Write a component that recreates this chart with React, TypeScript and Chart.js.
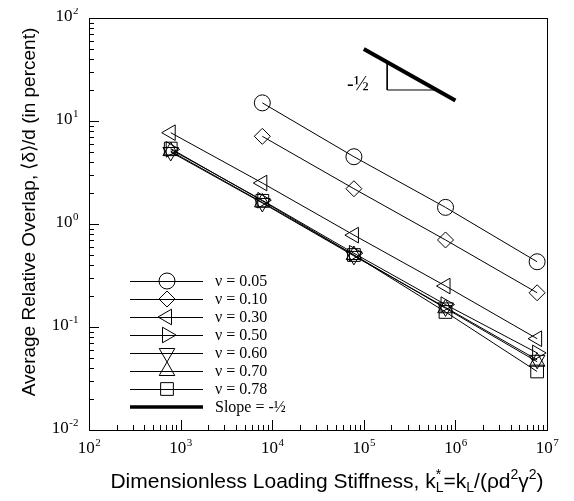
import React, { useEffect, useRef } from 'react';
import { Chart, registerables } from 'chart.js';
import { drawPoint } from 'chart.js/helpers';

Chart.register(...registerables);

// ---- data ----
const xAll = [780, 7800, 78000, 780000, 7800000];
const xHigh = [7800, 78000, 780000, 7800000];

const nu005 = [15, 4.5, 1.45, 0.43];
const nu010 = [7.1, 2.2, 0.7, 0.215];
const nu030 = [7.7, 2.5, 0.78, 0.25, 0.077];
const nu050 = [5.3, 1.7, 0.52, 0.165, 0.056];
const nu060 = [5.0, 1.6, 0.49, 0.155, 0.048];
const nu070 = [5.1, 1.62, 0.5, 0.152, 0.046];
const nu078 = [5.4, 1.68, 0.5, 0.14, 0.037];

const seriesLabels = ['ν = 0.05', 'ν = 0.10', 'ν = 0.30', 'ν = 0.50', 'ν = 0.60', 'ν = 0.70', 'ν = 0.78'];
const slopeLabel = 'Slope = -½';

// slope indicator
const slopeX = [1e5, 1e6];
const slopeY = [50, 15.8];
const triX = [1.8e5, 1.8e5, 6.25e5];
const triY = [37.3, 20, 20];
const slopeTextPos = { x: 8.6e4, y: 22.5, text: '-½' };

// axes
const xDecades = [2, 3, 4, 5, 6, 7];
const yDecades = [-2, -1, 0, 1, 2];
const xTitleParts = ['Dimensionless Loading Stiffness, k', 'L', '*', '=k', 'L', '/(ρd', '2', 'γ', '2', ')'];
const yTitle = 'Average Relative Overlap, ⟨δ⟩/d (in percent)';

const styles = [
  { pointStyle: 'circle', rotation: 0, radius: 8 },
  { pointStyle: 'rectRot', rotation: 0, radius: 8 },
  { pointStyle: 'triangle', rotation: 270, radius: 9 },
  { pointStyle: 'triangle', rotation: 90, radius: 9 },
  { pointStyle: 'triangle', rotation: 180, radius: 9 },
  { pointStyle: 'triangle', rotation: 0, radius: 9 },
  { pointStyle: 'rect', rotation: 0, radius: 9 },
];

const seriesValues = [nu005, nu010, nu030, nu050, nu060, nu070, nu078];
const seriesX = [xHigh, xHigh, xAll, xAll, xAll, xAll, xAll];

const SERIF = '"Liberation Serif", "Times New Roman", serif';
const SANS = '"Liberation Sans", Arial, sans-serif';

const decorPlugin = {
  id: 'decor',
  afterDraw(chart: any) {
    const { ctx, chartArea: ca, scales } = chart;
    const xs = scales.x;
    const ys = scales.y;
    ctx.save();
    ctx.strokeStyle = '#000';
    ctx.fillStyle = '#000';
    ctx.lineWidth = 1;
    // frame
    ctx.strokeRect(Math.round(ca.left) + 0.5, Math.round(ca.top) + 0.5, Math.round(ca.right - ca.left), Math.round(ca.bottom - ca.top));

    // ticks
    const majorLen = 10;
    const minorLen = 5;
    ctx.beginPath();
    for (let i = 0; i < xDecades.length; i++) {
      const d = xDecades[i];
      for (let m = 1; m <= 9; m++) {
        if (i === xDecades.length - 1 && m > 1) break;
        const px = Math.round(xs.getPixelForValue(m * Math.pow(10, d))) + 0.5;
        const len = m === 1 ? majorLen : minorLen;
        ctx.moveTo(px, ca.bottom);
        ctx.lineTo(px, ca.bottom - len);
      }
    }
    for (let i = 0; i < yDecades.length; i++) {
      const d = yDecades[i];
      for (let m = 1; m <= 9; m++) {
        if (i === yDecades.length - 1 && m > 1) break;
        const py = Math.round(ys.getPixelForValue(m * Math.pow(10, d))) + 0.5;
        const len = m === 1 ? majorLen : minorLen;
        ctx.moveTo(ca.left, py);
        ctx.lineTo(ca.left + len, py);
      }
    }
    ctx.stroke();

    // tick labels
    const baseFont = '17px ' + SERIF;
    const supFont = '11px ' + SERIF;
    ctx.textBaseline = 'middle';
    ctx.textAlign = 'left';
    const measure = (exp: string) => {
      ctx.font = baseFont;
      const w1 = ctx.measureText('10').width;
      ctx.font = supFont;
      const w2 = ctx.measureText(exp).width;
      return [w1, w2];
    };
    const drawPow = (sx: number, y: number, exp: string, w1: number) => {
      ctx.font = baseFont;
      ctx.fillText('10', sx, y);
      ctx.font = supFont;
      ctx.fillText(exp, sx + w1 + 0.5, y - 6);
    };
    xDecades.forEach((d) => {
      const exp = String(d);
      const [w1, w2] = measure(exp);
      const px = xs.getPixelForValue(Math.pow(10, d));
      drawPow(px - (w1 + w2) / 2, ca.bottom + 19, exp, w1);
    });
    yDecades.forEach((d) => {
      const exp = String(d);
      const [w1, w2] = measure(exp);
      const py = ys.getPixelForValue(Math.pow(10, d));
      drawPow(ca.left - 11 - (w1 + w2), py - 1, exp, w1);
    });

    // x title
    const mainF = '21px ' + SANS;
    const smallF = '14px ' + SANS;
    const p = xTitleParts;
    const segs: { t: string; f: string; dy: number; adv: boolean }[] = [
      { t: p[0], f: mainF, dy: 0, adv: true },
      { t: p[1], f: smallF, dy: 4, adv: false },
      { t: p[2], f: smallF, dy: -9, adv: true },
      { t: p[3], f: mainF, dy: 0, adv: true },
      { t: p[4], f: smallF, dy: 4, adv: true },
      { t: p[5], f: mainF, dy: 0, adv: true },
      { t: p[6], f: smallF, dy: -9, adv: true },
      { t: p[7], f: mainF, dy: 0, adv: true },
      { t: p[8], f: smallF, dy: -9, adv: true },
      { t: p[9], f: mainF, dy: 0, adv: true },
    ];
    ctx.textBaseline = 'alphabetic';
    let total = 0;
    let pending = 0;
    segs.forEach((s) => {
      ctx.font = s.f;
      const w = ctx.measureText(s.t).width;
      if (s.adv) { total += Math.max(w, pending); pending = 0; } else { pending = w; }
    });
    let cx = (ca.left + ca.right) / 2 - total / 2 + 9;
    const baseY = ca.bottom + 58;
    pending = 0;
    segs.forEach((s) => {
      ctx.font = s.f;
      const w = ctx.measureText(s.t).width;
      ctx.fillText(s.t, cx, baseY + s.dy);
      if (s.adv) { cx += Math.max(w, pending); pending = 0; } else { pending = w; }
    });

    // y title
    ctx.save();
    ctx.translate(22, (ca.top + ca.bottom) / 2 - 12);
    ctx.rotate(-Math.PI / 2);
    ctx.font = '19px ' + SANS;
    ctx.textAlign = 'center';
    ctx.textBaseline = 'middle';
    ctx.fillText(yTitle, 0, 0);
    ctx.restore();

    // slope label
    ctx.font = '20px ' + SERIF;
    ctx.textAlign = 'center';
    ctx.textBaseline = 'middle';
    ctx.fillText(slopeTextPos.text, xs.getPixelForValue(slopeTextPos.x), ys.getPixelForValue(slopeTextPos.y));

    // legend
    const rowY0 = 273;
    const rowH = 18;
    const lx0 = 122;
    const lx1 = 195;
    const sx = 159;
    const tx = 207;
    ctx.font = '16px ' + SERIF;
    ctx.textAlign = 'left';
    ctx.textBaseline = 'middle';
    const datasets = chart.data.datasets;
    for (let i = 0; i < seriesLabels.length; i++) {
      const y = rowY0 + i * rowH;
      const ds = datasets[i];
      ctx.lineWidth = 1;
      ctx.beginPath();
      ctx.moveTo(lx0, y + 0.5);
      ctx.lineTo(lx1, y + 0.5);
      ctx.stroke();
      ctx.fillStyle = 'rgba(0,0,0,0)';
      drawPoint(ctx, { pointStyle: ds.pointStyle, rotation: ds.pointRotation, radius: ds.pointRadius, borderWidth: 1 }, sx, y);
      ctx.fillStyle = '#000';
      ctx.fillText(ds.label, tx, y + 1);
    }
    const ys2 = rowY0 + seriesLabels.length * rowH;
    ctx.lineWidth = 3.5;
    ctx.beginPath();
    ctx.moveTo(lx0, ys2);
    ctx.lineTo(lx1, ys2);
    ctx.stroke();
    ctx.fillText(slopeLabel, tx, ys2 + 1);

    ctx.restore();
  },
};

export default function App() {
  const ref = useRef<HTMLCanvasElement | null>(null);
  useEffect(() => {
    if (!ref.current) return;
    const datasets: any[] = seriesValues.map((vals, i) => ({
      label: seriesLabels[i],
      data: vals.map((v, j) => ({ x: seriesX[i][j], y: v })),
      showLine: true,
      borderColor: '#000',
      borderWidth: 1,
      pointStyle: styles[i].pointStyle,
      pointRotation: styles[i].rotation,
      pointRadius: styles[i].radius,
      pointBorderWidth: 1,
      pointBorderColor: '#000',
      pointBackgroundColor: 'rgba(0,0,0,0)',
      backgroundColor: 'rgba(0,0,0,0)',
      fill: false,
    }));
    datasets.push({
      label: slopeLabel,
      data: slopeX.map((x, j) => ({ x, y: slopeY[j] })),
      showLine: true,
      borderColor: '#000',
      borderWidth: 4,
      pointRadius: 0,
      fill: false,
      borderCapStyle: 'butt',
    });
    datasets.push({
      label: 'triangle',
      data: triX.map((x, j) => ({ x, y: triY[j] })),
      showLine: true,
      borderColor: '#000',
      borderWidth: 1,
      pointRadius: 0,
      fill: false,
    });
    const chart = new Chart(ref.current, {
      type: 'scatter',
      data: { datasets },
      options: {
        animation: false,
        responsive: false,
        devicePixelRatio: 1,
        layout: { padding: { left: 0, right: 19, top: 10, bottom: 0 } },
        plugins: { legend: { display: false }, tooltip: { enabled: false } },
        scales: {
          x: {
            type: 'logarithmic',
            min: 100,
            max: 1e7,
            ticks: { display: false },
            grid: { display: false, drawTicks: false },
            border: { display: false },
            afterFit: (s: any) => { s.height = 63; },
          },
          y: {
            type: 'logarithmic',
            min: 0.01,
            max: 100,
            ticks: { display: false },
            grid: { display: false, drawTicks: false },
            border: { display: false },
            afterFit: (s: any) => { s.width = 81; },
          },
        },
      } as any,
      plugins: [decorPlugin],
    });
    return () => chart.destroy();
  }, []);
  return <canvas ref={ref} width={558} height={485} style={{ display: 'block' }} />;
}
